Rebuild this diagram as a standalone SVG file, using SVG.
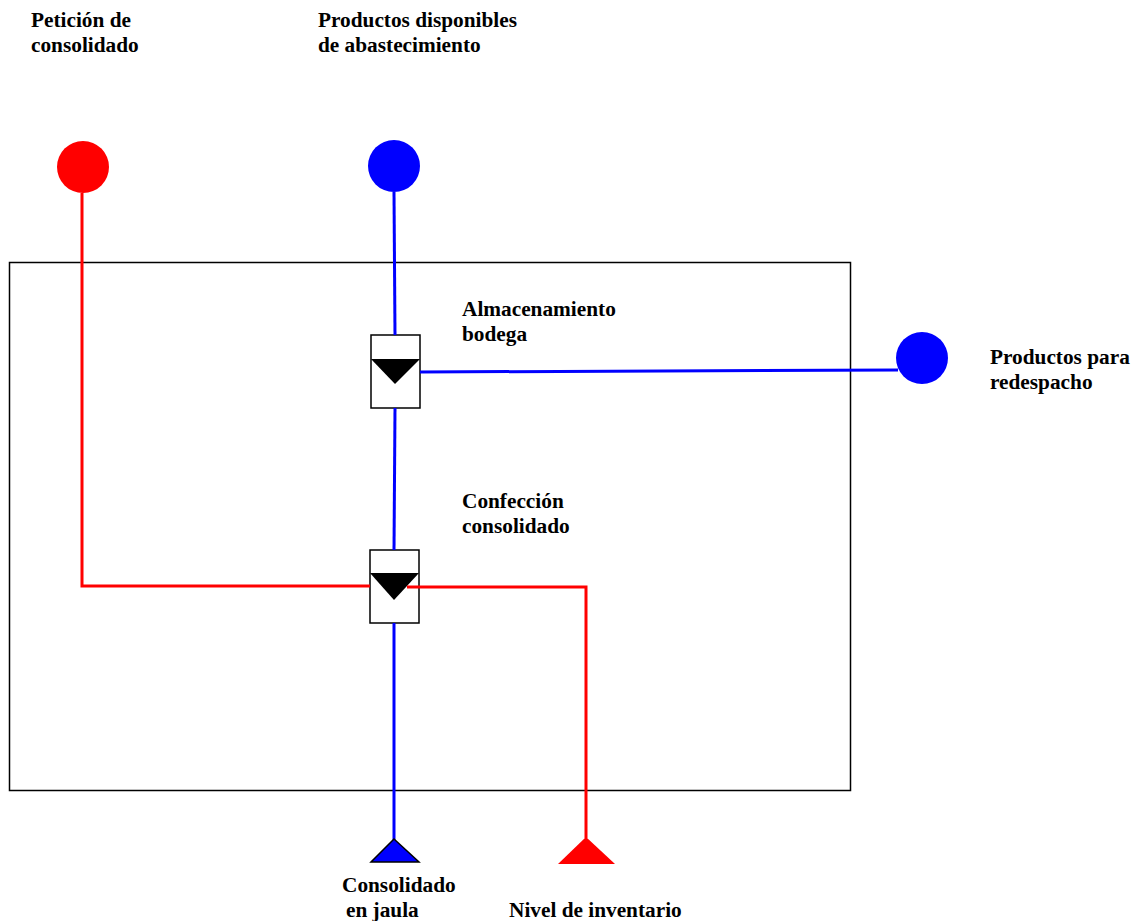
<svg xmlns="http://www.w3.org/2000/svg" width="1136" height="921" viewBox="0 0 1136 921">
  <style>
    .lbl { font-family: "Liberation Serif", "Times New Roman", serif; font-size: 21.3px; font-weight: bold; fill: #000; }
    .blue { stroke: #0000ff; stroke-width: 3; fill: none; }
    .red { stroke: #ff0000; stroke-width: 3; fill: none; }
    .store { fill: #fff; stroke: #000; stroke-width: 1.5; }
  </style>
  <rect width="1136" height="921" fill="#fff"/>

  <!-- system boundary -->
  <rect id="boundary" x="9.5" y="262.5" width="841" height="528" fill="none" stroke="#000" stroke-width="1.5"/>

  <!-- sources -->
  <g id="peticion">
    <circle cx="83" cy="167" r="26" fill="#ff0000"/>
    <text class="lbl" x="31" y="27">Petición de</text>
    <text class="lbl" x="31" y="52">consolidado</text>
  </g>
  <g id="productos-disponibles">
    <circle cx="394" cy="166" r="26" fill="#0000ff"/>
    <text class="lbl" x="318" y="27">Productos disponibles</text>
    <text class="lbl" x="318" y="52">de abastecimiento</text>
  </g>
  <g id="productos-redespacho">
    <circle cx="922" cy="358" r="26" fill="#0000ff"/>
    <text class="lbl" x="990" y="364">Productos para</text>
    <text class="lbl" x="990" y="389">redespacho</text>
  </g>

  <!-- stores -->
  <g id="almacenamiento">
    <rect class="store" x="371" y="335" width="49" height="73"/>
    <path d="M371 359 L420 359 L395 384 Z" fill="#000"/>
    <text class="lbl" x="462" y="316">Almacenamiento</text>
    <text class="lbl" x="462" y="341">bodega</text>
  </g>
  <g id="confeccion">
    <rect class="store" x="370" y="550" width="49" height="73"/>
    <path d="M370 573 L419 573 L394 600 Z" fill="#000"/>
    <text class="lbl" x="462" y="508">Confección</text>
    <text class="lbl" x="462" y="533">consolidado</text>
  </g>

  <!-- connectors -->
  <g id="connectors">
    <path class="blue" d="M394 192 L395 335"/>
    <path class="blue" d="M395 408 L394 550"/>
    <path class="blue" d="M394 623 L394 840"/>
    <path class="blue" d="M420 372 L898 370"/>
    <path class="red" d="M82 193 L82 586 L370 586"/>
    <path class="red" d="M407 587 L586 587 L586 838"/>
  </g>

  <!-- sinks -->
  <g id="consolidado-jaula">
    <path d="M394 839 L419 862 L371 862 Z" fill="#0000ff" stroke="#000" stroke-width="1.5"/>
    <text class="lbl" x="342" y="892">Consolidado</text>
    <text class="lbl" x="346" y="917">en jaula</text>
  </g>
  <g id="nivel-inventario">
    <path d="M586 837 L615 864 L558 864 Z" fill="#ff0000"/>
    <text class="lbl" x="509" y="917">Nivel de inventario</text>
  </g>
</svg>
